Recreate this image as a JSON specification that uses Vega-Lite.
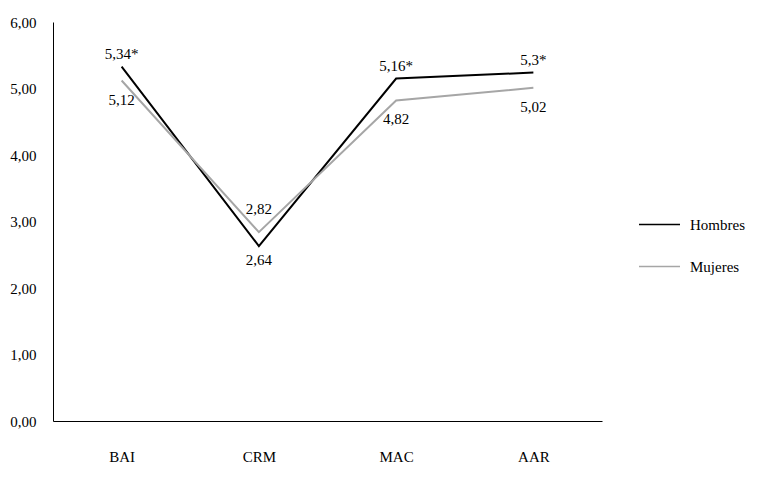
{
  "$schema": "https://vega.github.io/schema/vega-lite/v6.json",
  "width": 549,
  "height": 399,
  "autosize": {"type": "none"},
  "padding": {"left": 53, "top": 22, "right": 156, "bottom": 58},
  "background": "white",
  "config": {
    "font": "Liberation Serif",
    "view": {"stroke": null}
  },
  "data": {
    "values": [
      {"dim": "BAI", "serie": "Hombres", "valor": 5.33, "etiqueta": "5,34*"},
      {"dim": "CRM", "serie": "Hombres", "valor": 2.63, "etiqueta": "2,64"},
      {"dim": "MAC", "serie": "Hombres", "valor": 5.15, "etiqueta": "5,16*"},
      {"dim": "AAR", "serie": "Hombres", "valor": 5.24, "etiqueta": "5,3*"},
      {"dim": "BAI", "serie": "Mujeres", "valor": 5.12, "etiqueta": "5,12"},
      {"dim": "CRM", "serie": "Mujeres", "valor": 2.84, "etiqueta": "2,82"},
      {"dim": "MAC", "serie": "Mujeres", "valor": 4.82, "etiqueta": "4,82"},
      {"dim": "AAR", "serie": "Mujeres", "valor": 5.01, "etiqueta": "5,02"}
    ]
  },
  "encoding": {
    "x": {
      "field": "dim", "type": "nominal", "sort": ["BAI", "CRM", "MAC", "AAR"],
      "axis": {"title": null, "labelAngle": 0, "ticks": false, "tickSize": 0, "domainColor": "black", "domainWidth": 1, "labelFontSize": 15, "labelColor": "black", "labelPadding": 28, "labelBaseline": "top", "labelFont": "Liberation Serif"}
    },
    "y": {
      "field": "valor", "type": "quantitative", "scale": {"domain": [0, 6], "nice": false},
      "axis": {"title": null, "values": [0, 1, 2, 3, 4, 5, 6], "grid": false, "ticks": false, "tickSize": 0, "domainColor": "black", "domainWidth": 1, "labelFontSize": 15, "labelColor": "black", "labelPadding": 17, "labelFont": "Liberation Serif", "labelExpr": "replace(format(datum.value, '.2f'), '.', ',')"}
    }
  },
  "layer": [
    {
      "mark": {"type": "line", "strokeWidth": 2},
      "encoding": {
        "color": {
          "field": "serie", "type": "nominal",
          "scale": {"domain": ["Hombres", "Mujeres"], "range": ["#000000", "#a6a6a6"]},
          "legend": {"orient": "none", "legendX": 585, "legendY": 181, "title": null, "symbolType": "stroke", "symbolSize": 1681, "symbolStrokeWidth": 1.3, "labelFontSize": 15, "labelColor": "black", "labelOffset": 9, "rowPadding": 12, "padding": 0, "labelFont": "Liberation Serif"}
        }
      }
    },
    {
      "transform": [{"filter": "datum.serie == 'Hombres' && datum.dim != 'CRM'"}],
      "mark": {"type": "text", "dy": -13, "fontSize": 15, "color": "black", "baseline": "middle", "font": "Liberation Serif"},
      "encoding": {"text": {"field": "etiqueta"}}
    },
    {
      "transform": [{"filter": "datum.serie == 'Hombres' && datum.dim == 'CRM'"}],
      "mark": {"type": "text", "dy": 14, "fontSize": 15, "color": "black", "baseline": "middle", "font": "Liberation Serif"},
      "encoding": {"text": {"field": "etiqueta"}}
    },
    {
      "transform": [{"filter": "datum.serie == 'Mujeres' && datum.dim != 'CRM'"}],
      "mark": {"type": "text", "dy": 19, "fontSize": 15, "color": "black", "baseline": "middle", "font": "Liberation Serif"},
      "encoding": {"text": {"field": "etiqueta"}}
    },
    {
      "transform": [{"filter": "datum.serie == 'Mujeres' && datum.dim == 'CRM'"}],
      "mark": {"type": "text", "dy": -23, "fontSize": 15, "color": "black", "baseline": "middle", "font": "Liberation Serif"},
      "encoding": {"text": {"field": "etiqueta"}}
    }
  ]
}
